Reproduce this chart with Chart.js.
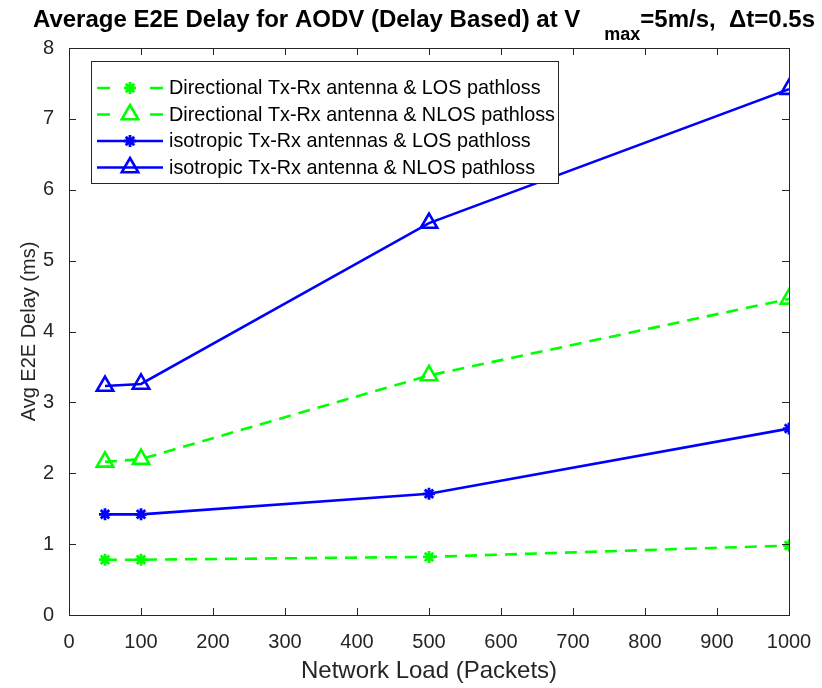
<!DOCTYPE html>
<html>
<head>
<meta charset="utf-8">
<script src="https://cdn.jsdelivr.net/npm/chart.js@4/dist/chart.umd.min.js"></script>
<style>
  html, body { margin: 0; padding: 0; background: #ffffff; }
  #wrap { width: 822px; height: 688px; position: relative; }
</style>
</head>
<body>
<div id="wrap"><canvas id="c" width="822" height="688"></canvas></div>
<script>
// Network load (packets) on the x axis
const loads = [50, 100, 500, 1000];

// Average end-to-end delay (ms) per configuration
const dirLos  = [0.78, 0.78, 0.82, 0.98];
const dirNlos = [2.16, 2.20, 3.38, 4.46];
const isoLos  = [1.42, 1.42, 1.71, 2.63];
const isoNlos = [3.23, 3.26, 5.53, 7.42];

const seriesLabels = [
  'Directional Tx-Rx antenna & LOS pathloss',
  'Directional Tx-Rx antenna & NLOS pathloss',
  'isotropic Tx-Rx antennas & LOS pathloss',
  'isotropic Tx-Rx antenna & NLOS pathloss'
];

const xTicks = [0, 100, 200, 300, 400, 500, 600, 700, 800, 900, 1000];
const yTicks = [0, 1, 2, 3, 4, 5, 6, 7, 8];

const titleMain = 'Average E2E Delay for AODV (Delay Based) at V';
const titleSub = 'max';
const titleTail = '=5m/s,  \u0394t=0.5s';
const xTitle = 'Network Load (Packets)';
const yTitle = 'Avg E2E Delay (ms)';

const GREEN = '#00ff00';
const BLUE = '#0000ff';
const AXIS = '#262626';
const FONT = '"Liberation Sans", Arial, Helvetica, sans-serif';

function pts(values) {
  return loads.map((x, i) => ({ x: x, y: values[i] }));
}

const styles = [
  { color: GREEN, dash: [12, 8], marker: 'star', radius: 6, mw: 2.8 },
  { color: GREEN, dash: [12, 8], marker: 'triangle', radius: 9.5, mw: 2.6 },
  { color: BLUE, dash: [], marker: 'star', radius: 6, mw: 2.8 },
  { color: BLUE, dash: [], marker: 'triangle', radius: 9.5, mw: 2.6 }
];

const seriesValues = [dirLos, dirNlos, isoLos, isoNlos];

const datasets = seriesValues.map((vals, i) => ({
  label: seriesLabels[i],
  data: pts(vals),
  borderColor: styles[i].color,
  backgroundColor: 'rgba(0,0,0,0)',
  borderWidth: 2.6,
  borderDash: styles[i].dash,
  pointStyle: styles[i].marker,
  pointRadius: styles[i].radius,
  pointBorderWidth: styles[i].mw,
  pointBorderColor: styles[i].color,
  pointBackgroundColor: 'rgba(0,0,0,0)',
  tension: 0,
  fill: false,
  order: 4 - i
}));

// Box, inward tick marks, legend and title in the plotting style of the figure
const decorations = {
  id: 'decorations',
  afterDraw(chart) {
    const ctx = chart.ctx;
    const a = chart.chartArea;
    const xs = chart.scales.x;
    const ys = chart.scales.y;
    ctx.save();

    // axes box
    ctx.strokeStyle = AXIS;
    ctx.lineWidth = 1;
    ctx.setLineDash([]);
    ctx.strokeRect(Math.round(a.left) + 0.5, Math.round(a.top) + 0.5,
                   Math.round(a.right - a.left), Math.round(a.bottom - a.top));

    // tick marks on all four sides, pointing inward
    const tl = 7;
    ctx.beginPath();
    xTicks.forEach(v => {
      const px = Math.round(xs.getPixelForValue(v)) + 0.5;
      ctx.moveTo(px, a.bottom); ctx.lineTo(px, a.bottom - tl);
      ctx.moveTo(px, a.top); ctx.lineTo(px, a.top + tl);
    });
    yTicks.forEach(v => {
      const py = Math.round(ys.getPixelForValue(v)) + 0.5;
      ctx.moveTo(a.left, py); ctx.lineTo(a.left + tl, py);
      ctx.moveTo(a.right, py); ctx.lineTo(a.right - tl, py);
    });
    ctx.stroke();

    // legend
    const lx = 91.5, ly = 61.5, lw = 467, lh = 122;
    ctx.fillStyle = '#ffffff';
    ctx.fillRect(lx, ly, lw, lh);
    ctx.strokeStyle = AXIS;
    ctx.lineWidth = 1;
    ctx.strokeRect(lx, ly, lw, lh);
    const rowY = [88, 114.5, 141, 167.5];
    const x0 = 97, x1 = 163, xm = 130;
    chart.data.datasets.forEach((ds, i) => {
      const y = rowY[i];
      const st = styles[i];
      ctx.strokeStyle = st.color;
      ctx.lineWidth = 2.6;
      ctx.setLineDash([]);
      ctx.beginPath();
      if (st.dash.length) {
        ctx.moveTo(x0, y); ctx.lineTo(x0 + 13, y);
        ctx.moveTo(x1 - 13, y); ctx.lineTo(x1, y);
      } else {
        ctx.moveTo(x0, y); ctx.lineTo(x1, y);
      }
      ctx.stroke();
      ctx.fillStyle = 'rgba(0,0,0,0)';
      ctx.lineWidth = st.mw;
      Chart.helpers.drawPoint(ctx, {
        pointStyle: st.marker, radius: st.radius, borderWidth: st.mw, rotation: 0
      }, xm, y);
      ctx.fillStyle = '#000000';
      ctx.font = '19.8px ' + FONT;
      ctx.textAlign = 'left';
      ctx.textBaseline = 'middle';
      ctx.fillText(ds.label, 169, y + 1);
    });

    // title with subscript
    const bold = 'bold 24px ' + FONT;
    const boldSub = 'bold 18px ' + FONT;
    ctx.fillStyle = '#000000';
    ctx.textBaseline = 'alphabetic';
    ctx.textAlign = 'left';
    ctx.font = bold;
    const w1 = ctx.measureText(titleMain).width;
    const w3 = ctx.measureText(titleTail).width;
    ctx.font = boldSub;
    const w2 = ctx.measureText(titleSub).width;
    const gap = 24;
    const total = w1 + gap + w2 + w3;
    let tx = (a.left + a.right) / 2 - 5 - total / 2;
    ctx.font = bold;
    ctx.fillText(titleMain, tx, 27);
    tx += w1 + gap;
    ctx.font = boldSub;
    ctx.fillText(titleSub, tx, 40);
    tx += w2;
    ctx.font = bold;
    ctx.fillText(titleTail, tx, 27);

    ctx.restore();
  }
};

new Chart(document.getElementById('c'), {
  type: 'line',
  data: { datasets: datasets },
  options: {
    responsive: false,
    animation: false,
    devicePixelRatio: 1,
    layout: { padding: { left: 0, right: 33, top: 48, bottom: 0 } },
    plugins: {
      legend: { display: false },
      title: { display: false },
      tooltip: { enabled: false }
    },
    scales: {
      x: {
        type: 'linear',
        min: 0,
        max: 1000,
        afterBuildTicks: s => { s.ticks = xTicks.map(v => ({ value: v })); },
        afterFit: s => { s.height = 73; s.paddingLeft = 0; s.paddingRight = 0; },
        grid: { display: false, drawTicks: false },
        border: { display: false },
        ticks: {
          color: AXIS,
          font: { family: FONT, size: 20 },
          padding: 15,
          maxRotation: 0,
          autoSkip: false,
          callback: v => String(v)
        },
        title: {
          display: true,
          text: xTitle,
          color: AXIS,
          font: { family: FONT, size: 24 },
          padding: { top: 0, bottom: 2 }
        }
      },
      y: {
        type: 'linear',
        min: 0,
        max: 8,
        afterBuildTicks: s => { s.ticks = yTicks.map(v => ({ value: v })); },
        afterFit: s => { s.width = 69; },
        grid: { display: false, drawTicks: false },
        border: { display: false },
        ticks: {
          color: AXIS,
          font: { family: FONT, size: 20 },
          padding: 15,
          callback: v => String(v)
        },
        title: {
          display: true,
          text: yTitle,
          color: AXIS,
          font: { family: FONT, size: 20 },
          padding: { top: 17, bottom: 0 }
        }
      }
    }
  },
  plugins: [decorations]
});
</script>
</body>
</html>
